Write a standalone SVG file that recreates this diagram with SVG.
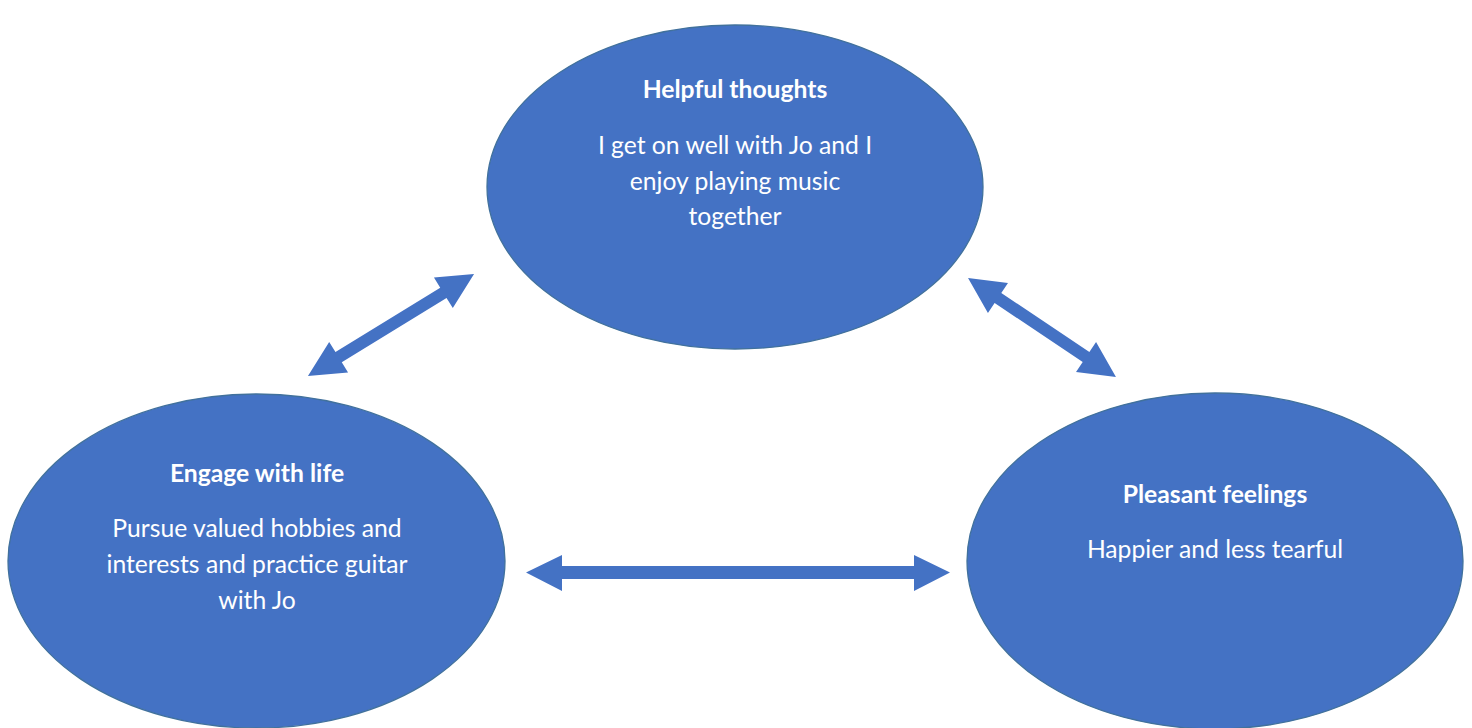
<svg xmlns="http://www.w3.org/2000/svg" width="1472" height="728" viewBox="0 0 1472 728">
<defs>
<style>
.node{fill:#4472C4;stroke:#41719C;stroke-width:1.3}
.arrow{fill:#4472C4}
.t{font-family:Lato,"Liberation Sans",sans-serif;font-size:24.7px;fill:#ffffff;text-anchor:middle}
.b{font-weight:bold}
</style>
</defs>
<rect width="1472" height="728" fill="#ffffff"/>
<g id="connectors">
<polygon class="arrow" transform="translate(391,325) rotate(-31.6)" points="97.5,0 61.5,-18 61.5,-6 -61.5,-6 -61.5,-18 -97.5,0 -61.5,18 -61.5,6 61.5,6 61.5,18"/>
<polygon class="arrow" transform="translate(1042,327.5) rotate(33.8)" points="89,0 53,-18 53,-6 -53,-6 -53,-18 -89,0 -53,18 -53,6 53,6 53,18"/>
<polygon class="arrow" points="526,572.5 562,555 562,566 914,566 914,555 950,572.5 914,591 914,579 562,579 562,591"/>
</g>
<g id="node-helpful-thoughts">
<ellipse class="node" cx="735" cy="187" rx="248" ry="162"/>
<text class="t b" x="735" y="98">Helpful thoughts</text>
<text class="t" x="735" y="154">I get on well with Jo and I</text>
<text class="t" x="735" y="190">enjoy playing music</text>
<text class="t" x="735" y="225">together</text>
</g>
<g id="node-engage-with-life">
<ellipse class="node" cx="256.5" cy="561" rx="248.5" ry="167"/>
<text class="t b" x="257" y="482">Engage with life</text>
<text class="t" x="257" y="537">Pursue valued hobbies and</text>
<text class="t" x="257" y="573">interests and practice guitar</text>
<text class="t" x="257" y="609">with Jo</text>
</g>
<g id="node-pleasant-feelings">
<ellipse class="node" cx="1215" cy="561" rx="248" ry="168"/>
<text class="t b" x="1215" y="503">Pleasant feelings</text>
<text class="t" x="1215" y="558">Happier and less tearful</text>
</g>
</svg>
